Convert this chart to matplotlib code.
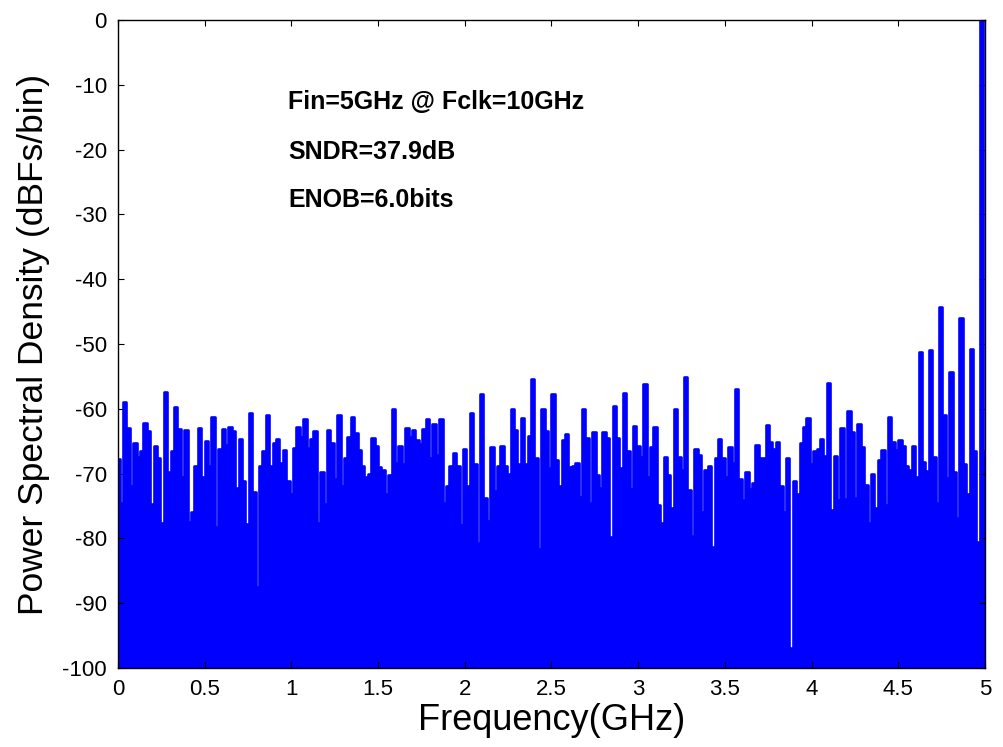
import numpy as np
import matplotlib.pyplot as plt

plt.rcParams['font.family'] = ['Liberation Sans', 'DejaVu Sans']
plt.rcParams['axes.unicode_minus'] = False

# PSD per bin (dBFs/bin), 0 .. 5 GHz
psd_db = [
    -67.8, -74.6, -58.9, -63.0, -72.0, -65.3, -67.4, -66.5, -62.2, -63.5,
    -74.7, -65.8, -67.6, -77.7, -57.4, -69.7, -66.5, -59.8, -63.2, -70.6,
    -63.3, -77.5, -75.9, -68.8, -62.9, -70.6, -65.0, -68.8, -61.2, -78.2,
    -66.2, -63.2, -65.6, -62.8, -63.4, -72.3, -64.7, -71.1, -77.8, -60.6,
    -72.8, -87.5, -68.8, -66.5,
    -60.9, -68.8, -65.3, -64.7, -68.3, -66.3, -71.1, -73.2, -66.0, -62.8,
    -64.4, -61.6, -66.0, -64.7, -63.5, -77.7, -69.7, -74.7, -63.3, -65.3,
    -70.8, -61.0, -72.0, -67.6, -64.4, -61.3, -63.8, -66.3, -68.8, -70.5,
    -70.1, -64.5, -65.7, -69.0, -69.4, -73.2, -70.2, -60.1, -68.3, -65.8,
    -68.6, -63.0, -64.4,
    -63.3, -64.8, -65.4, -63.2, -61.6, -67.6, -62.4, -67.1, -61.6, -74.6,
    -72.0, -68.8, -66.9, -68.8, -77.9, -66.2, -71.9, -60.7, -68.6, -80.7,
    -57.7, -73.8, -77.3, -65.9, -72.7, -68.8, -65.8, -68.8, -70.1, -60.0,
    -63.3, -68.6, -61.5, -68.6, -64.2, -55.4, -67.6, -81.7, -60.1, -63.5,
    -69.1, -57.7, -67.9,
    -72.0, -64.8, -63.9, -69.0, -68.8, -68.3, -73.7, -60.1, -64.5, -74.6,
    -63.6, -70.3, -72.3, -63.6, -64.5, -79.8, -59.6, -64.5, -69.1, -57.6,
    -66.5, -72.4, -62.7, -65.7, -67.4, -56.2, -70.5, -65.9, -62.8, -74.8,
    -77.6, -67.4, -70.2, -75.4, -60.1, -67.5, -69.4, -55.1, -72.5, -79.6,
    -66.2, -67.1,
    -76.0, -69.4, -68.8, -81.3, -67.6, -64.7, -67.6, -70.5, -65.9, -68.3,
    -57.0, -70.9, -74.1, -69.7, -72.4, -71.5, -65.6, -67.6, -67.6, -62.5,
    -65.1, -66.2, -65.1, -71.9, -75.9, -67.6, -97.0, -71.2, -73.1, -65.3,
    -62.8, -61.5, -68.6, -66.5, -66.2, -64.7, -67.3, -56.0, -75.6, -67.3,
    -74.1, -63.0, -74.0,
    -60.4, -63.6, -73.8, -62.3, -65.9, -71.8, -77.6, -70.1, -75.3, -67.9,
    -66.3, -74.9, -61.2, -65.2, -66.3, -64.8, -65.8, -68.9, -69.4, -65.8,
    -70.6, -51.3, -68.2, -69.6, -50.9, -67.4, -74.6, -44.3, -60.9, -70.7,
    -54.3, -69.7, -76.9, -46.0, -68.5, -73.1, -50.8, -66.5, -80.5, 0.0,
    -66.5,
]
freq_ghz = np.linspace(0, 5, len(psd_db))

xticks = [0, 0.5, 1, 1.5, 2, 2.5, 3, 3.5, 4, 4.5, 5]
xtick_labels = ['0', '0.5', '1', '1.5', '2', '2.5', '3', '3.5', '4', '4.5', '5']
yticks = list(range(-100, 1, 10))

notes = ['Fin=5GHz @ Fclk=10GHz', 'SNDR=37.9dB', 'ENOB=6.0bits']
note_y = [-12.7, -20.4, -27.8]

fig = plt.figure(figsize=(10.04, 7.47), dpi=100)
ax = fig.add_axes([0.1175, 0.106, 0.8635, 0.867])

ax.fill_between(freq_ghz, psd_db, -100, step='mid', color='#0000ff', lw=0)
ax.plot(freq_ghz, psd_db, color='#0000ff', lw=1.9, drawstyle='steps-mid')

ax.set_xlim(0, 5)
ax.set_ylim(-100, 0)
ax.set_xticks(xticks)
ax.set_xticklabels(xtick_labels)
ax.set_yticks(yticks)
ax.tick_params(direction='in', top=True, right=True, length=4.5, width=0.8,
               labelsize=16, pad=8)
for s in ax.spines.values():
    s.set_linewidth(1.0)

ax.set_xlabel('Frequency(GHz)', fontsize=26, labelpad=2)
ax.set_ylabel('Power Spectral Density (dBFs/bin)', fontsize=25.5, labelpad=9)

for txt, yy in zip(notes, note_y):
    ax.text(0.98, yy, txt, fontsize=18, fontweight='bold', va='center', ha='left')

fig.savefig('out.png', dpi=100)
